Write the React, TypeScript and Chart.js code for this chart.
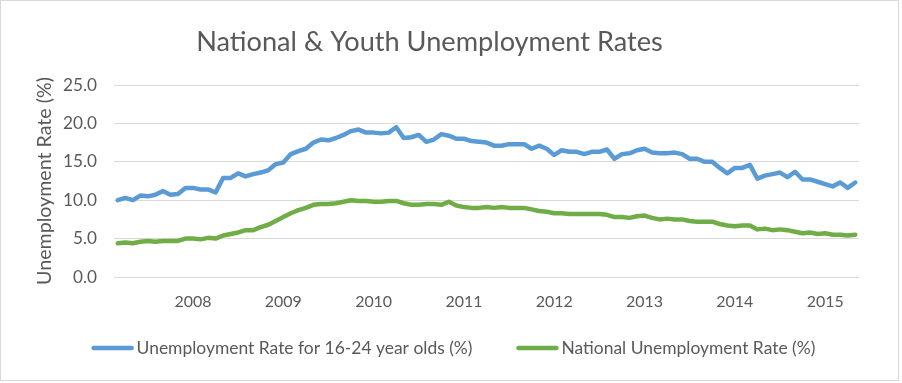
import React, { useEffect, useRef } from "react";
import { Chart, registerables } from "chart.js";

Chart.register(...registerables);

const TITLE = "National & Youth Unemployment Rates";
const Y_TITLE = "Unemployment Rate (%)";
const SERIES_NAMES = ["Unemployment Rate for 16-24 year olds (%)", "National Unemployment Rate (%)"];
const SERIES_COLORS = ["#5B9BD5", "#70AD47"];

const months: string[] = [
  "Mar 2007", "Apr 2007", "May 2007", "Jun 2007", "Jul 2007", "Aug 2007", "Sep 2007", "Oct 2007", "Nov 2007", "Dec 2007",
  "Jan 2008", "Feb 2008", "Mar 2008", "Apr 2008", "May 2008", "Jun 2008", "Jul 2008", "Aug 2008", "Sep 2008", "Oct 2008", "Nov 2008", "Dec 2008",
  "Jan 2009", "Feb 2009", "Mar 2009", "Apr 2009", "May 2009", "Jun 2009", "Jul 2009", "Aug 2009", "Sep 2009", "Oct 2009", "Nov 2009", "Dec 2009",
  "Jan 2010", "Feb 2010", "Mar 2010", "Apr 2010", "May 2010", "Jun 2010", "Jul 2010", "Aug 2010", "Sep 2010", "Oct 2010", "Nov 2010", "Dec 2010",
  "Jan 2011", "Feb 2011", "Mar 2011", "Apr 2011", "May 2011", "Jun 2011", "Jul 2011", "Aug 2011", "Sep 2011", "Oct 2011", "Nov 2011", "Dec 2011",
  "Jan 2012", "Feb 2012", "Mar 2012", "Apr 2012", "May 2012", "Jun 2012", "Jul 2012", "Aug 2012", "Sep 2012", "Oct 2012", "Nov 2012", "Dec 2012",
  "Jan 2013", "Feb 2013", "Mar 2013", "Apr 2013", "May 2013", "Jun 2013", "Jul 2013", "Aug 2013", "Sep 2013", "Oct 2013", "Nov 2013", "Dec 2013",
  "Jan 2014", "Feb 2014", "Mar 2014", "Apr 2014", "May 2014", "Jun 2014", "Jul 2014", "Aug 2014", "Sep 2014", "Oct 2014", "Nov 2014", "Dec 2014",
  "Jan 2015", "Feb 2015", "Mar 2015", "Apr 2015", "May 2015",
];

const youthRate: number[] = [
  10.0, 10.3, 10.0, 10.6, 10.5, 10.7, 11.2, 10.7, 10.8, 11.6,
  11.6, 11.4, 11.4, 11.0, 12.9, 12.9, 13.5, 13.1, 13.4, 13.6, 13.9, 14.7,
  14.9, 16.0, 16.4, 16.7, 17.5, 17.9, 17.8, 18.1, 18.5, 19.0, 19.2, 18.8,
  18.8, 18.7, 18.8, 19.5, 18.1, 18.2, 18.5, 17.6, 17.9, 18.6, 18.4, 18.0,
  18.0, 17.7, 17.6, 17.5, 17.1, 17.1, 17.3, 17.3, 17.3, 16.7, 17.1, 16.7,
  15.9, 16.5, 16.3, 16.3, 16.0, 16.3, 16.3, 16.6, 15.4, 16.0, 16.1, 16.5,
  16.7, 16.2, 16.1, 16.1, 16.2, 16.0, 15.4, 15.4, 15.0, 15.0, 14.2, 13.5,
  14.2, 14.2, 14.6, 12.8, 13.2, 13.4, 13.6, 13.0, 13.7, 12.7, 12.7, 12.4,
  12.1, 11.8, 12.3, 11.6, 12.3,
];

const nationalRate: number[] = [
  4.4, 4.5, 4.4, 4.6, 4.7, 4.6, 4.7, 4.7, 4.7, 5.0,
  5.0, 4.9, 5.1, 5.0, 5.4, 5.6, 5.8, 6.1, 6.1, 6.5, 6.8, 7.3,
  7.8, 8.3, 8.7, 9.0, 9.4, 9.5, 9.5, 9.6, 9.8, 10.0, 9.9, 9.9,
  9.8, 9.8, 9.9, 9.9, 9.6, 9.4, 9.4, 9.5, 9.5, 9.4, 9.8, 9.3,
  9.1, 9.0, 9.0, 9.1, 9.0, 9.1, 9.0, 9.0, 9.0, 8.8, 8.6, 8.5,
  8.3, 8.3, 8.2, 8.2, 8.2, 8.2, 8.2, 8.1, 7.8, 7.8, 7.7, 7.9,
  8.0, 7.7, 7.5, 7.6, 7.5, 7.5, 7.3, 7.2, 7.2, 7.2, 6.9, 6.7,
  6.6, 6.7, 6.7, 6.2, 6.3, 6.1, 6.2, 6.1, 5.9, 5.7, 5.8, 5.6,
  5.7, 5.5, 5.5, 5.4, 5.5,
];

const Y_MIN = 0;
const Y_MAX = 25;
const Y_STEP = 5;

const FAMILY = "Lato, 'Open Sans', sans-serif";
const TEXT_COLOR = "#595959";
const GRID_COLOR = "#d9d9d9";

function fitSize(text: string, target: number): number {
  const c = document.createElement("canvas").getContext("2d")!;
  c.font = `normal 100px ${FAMILY}`;
  return (100 * target) / c.measureText(text).width;
}

export default function App() {
  const ref = useRef<HTMLCanvasElement | null>(null);

  useEffect(() => {
    const canvas = ref.current;
    if (!canvas) return;

    const titleSize = fitSize(TITLE, 467);
    const xTickSize = fitSize("2008", 37);
    const yTickSize = fitSize("25.0", 34);
    const yTitleSize = fitSize(Y_TITLE, 208);
    const legendSize = fitSize(SERIES_NAMES[1], 254);
    const titleLH = titleSize * 1.2;
    const yTitleLH = yTitleSize * 1.2;

    const bgPlugin = {
      id: "bg",
      beforeDraw(chart: any) {
        const ctx = chart.ctx;
        ctx.save();
        ctx.fillStyle = "#ffffff";
        ctx.fillRect(0, 0, chart.width, chart.height);
        ctx.strokeStyle = GRID_COLOR;
        ctx.lineWidth = 1;
        ctx.strokeRect(0.5, 0.5, 898, 380);
        ctx.restore();
      },
    };

    const legendPlugin = {
      id: "customLegend",
      afterDraw(chart: any) {
        const ctx = chart.ctx;
        const y = chart.chartArea.bottom + 71;
        ctx.save();
        ctx.font = `normal ${legendSize}px ${FAMILY}`;
        const sample = 42;
        const gap = 3;
        const between = 44;
        const items = SERIES_NAMES.map((n, i) => ({ n, c: SERIES_COLORS[i], w: ctx.measureText(n).width }));
        const total = items.reduce((a, it) => a + sample + gap + it.w, 0) + between * (items.length - 1);
        let x = chart.width / 2 + 2.5 - total / 2;
        for (const it of items) {
          ctx.strokeStyle = it.c;
          ctx.lineWidth = 4.5;
          ctx.lineCap = "round";
          ctx.beginPath();
          ctx.moveTo(x + 2, y);
          ctx.lineTo(x + sample - 2, y);
          ctx.stroke();
          ctx.fillStyle = TEXT_COLOR;
          ctx.textBaseline = "middle";
          ctx.textAlign = "left";
          ctx.fillText(it.n, x + sample + gap, y);
          x += sample + gap + it.w + between;
        }
        ctx.restore();
      },
    };

    const chart = new Chart(canvas, {
      type: "line",
      data: {
        labels: months,
        datasets: [
          {
            label: SERIES_NAMES[0],
            data: youthRate,
            borderColor: SERIES_COLORS[0],
            backgroundColor: SERIES_COLORS[0],
            borderWidth: 4.5,
            pointRadius: 0,
            tension: 0,
            borderJoinStyle: "round",
            borderCapStyle: "round",
          },
          {
            label: SERIES_NAMES[1],
            data: nationalRate,
            borderColor: SERIES_COLORS[1],
            backgroundColor: SERIES_COLORS[1],
            borderWidth: 4.5,
            pointRadius: 0,
            tension: 0,
            borderJoinStyle: "round",
            borderCapStyle: "round",
          },
        ],
      },
      options: {
        responsive: false,
        animation: false,
        layout: { padding: { left: 0, right: 43, top: 0, bottom: 58 } },
        plugins: {
          legend: { display: false },
          tooltip: { enabled: false },
          title: {
            display: true,
            text: TITLE,
            color: TEXT_COLOR,
            font: { family: FAMILY, size: titleSize, weight: "normal", lineHeight: 1.2 },
            padding: { top: 42 - titleLH / 2, bottom: 85 - 42 - titleLH / 2 },
          },
        },
        scales: {
          x: {
            type: "category",
            offset: true,
            grid: { display: false, drawTicks: false },
            border: { display: false },
            ticks: {
              autoSkip: false,
              maxRotation: 0,
              minRotation: 0,
              padding: 25 - 0.6 * xTickSize,
              color: TEXT_COLOR,
              font: { family: FAMILY, size: xTickSize },
              callback: (_v: any, i: number) => (months[i].startsWith("Jan") ? months[i].slice(4) : ""),
            },
            afterFit: (s: any) => {
              s.height = 48;
            },
          },
          y: {
            min: Y_MIN,
            max: Y_MAX,
            grid: { color: GRID_COLOR, lineWidth: 1, drawTicks: false },
            border: { display: false },
            ticks: {
              stepSize: Y_STEP,
              padding: 17,
              color: TEXT_COLOR,
              font: { family: FAMILY, size: yTickSize },
              callback: (v: any) => Number(v).toFixed(1),
            },
            title: {
              display: true,
              text: Y_TITLE,
              color: TEXT_COLOR,
              font: { family: FAMILY, size: yTitleSize, weight: "normal", lineHeight: 1.2 },
              padding: { top: 45 - yTitleLH / 2, bottom: 0 },
            },
            afterFit: (s: any) => {
              s.width = 114;
            },
          },
        },
      },
      plugins: [bgPlugin, legendPlugin],
    });

    return () => chart.destroy();
  }, []);

  return (
    <div style={{ position: "absolute", left: 0, top: 0, width: 902, height: 383, background: "#fff" }}>
      <canvas ref={ref} width={902} height={383} style={{ display: "block" }} />
    </div>
  );
}
